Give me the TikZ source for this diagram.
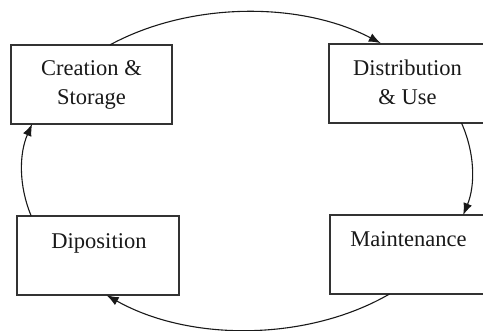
\documentclass[tikz,border=0pt]{standalone}
\usepackage{fontspec}
\setmainfont{Liberation Serif}
\usetikzlibrary{arrows.meta,calc}
\begin{document}
\begin{tikzpicture}[x=1pt,y=1pt,
  stagebox/.style={draw=black!80,line width=1.2pt,inner sep=0pt,minimum height=79pt},
  stagetext/.style={anchor=base,inner sep=0pt,font=\fontsize{22.5}{29}\selectfont,text=black!90},
  cyclearrow/.style={draw=black!90,line width=1.1pt,-{Latex[length=12pt,width=9pt]}}]
\useasboundingbox (0,0) rectangle (483,331);
\fill[white] (0,0) rectangle (483,331);
% boxes
\node[stagebox,minimum width=161pt] (cs) at (91.5,246.5) {};
\node[stagebox,minimum width=158pt] (du) at (408,247.5) {};
\node[stagebox,minimum width=162pt] (dp) at (98,75.5) {};
\node[stagebox,minimum width=158pt] (mt) at (409,76.5) {};
% texts
\node[stagetext] (t1) at (91.5,255) {Creation \&};
\node[stagetext] (t2) at (91.5,226) {Storage};
\node[stagetext] (t3) at (407.5,255) {Distribution};
\node[stagetext] (t4) at (407.5,226) {\& Use};
\node[stagetext] (t5) at (99,82) {Diposition};
\node[stagetext] (t6) at (408.5,84) {Maintenance};
% cycle ellipse
\coordinate (O) at (247,160);
\coordinate (p1) at ($(O)+(127.5:225 and 159)$);
\coordinate (p2) at ($(O)+(17.6:225 and 159)$);
\coordinate (p3) at ($(O)+(-50.7:225 and 159)$);
\coordinate (p4) at ($(O)+(196.4:225 and 159)$);
\draw[cyclearrow] (p1) arc[start angle=127.5,end angle=53.5,x radius=225,y radius=159];
\draw[cyclearrow] (p2) arc[start angle=17.6,end angle=-16.1,x radius=225,y radius=159];
\draw[cyclearrow] (p3) arc[start angle=-50.7,end angle=-128.6,x radius=225,y radius=159];
\draw[cyclearrow] (p4) arc[start angle=196.4,end angle=162.8,x radius=225,y radius=159];
\end{tikzpicture}
\end{document}
